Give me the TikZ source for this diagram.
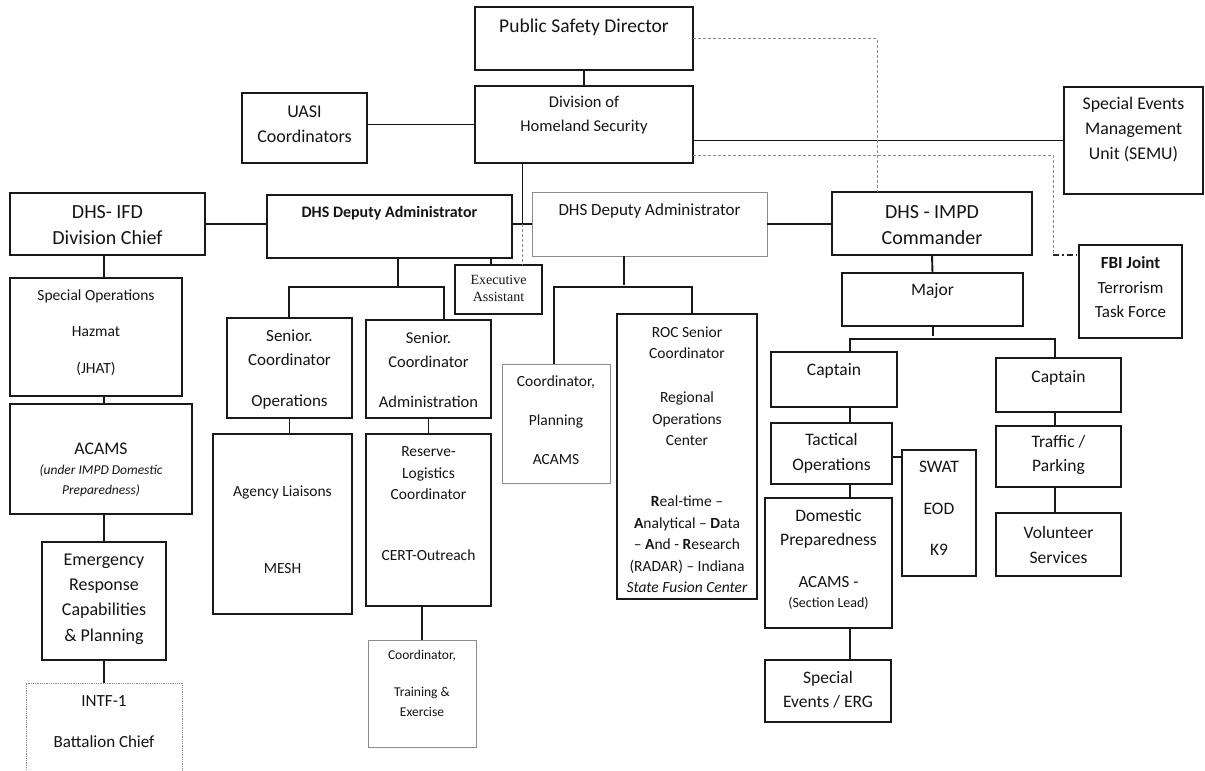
\documentclass[tikz,border=0pt]{standalone}
\usepackage{fontspec}
\setmainfont{Carlito}
\newfontfamily\serifx{Liberation Serif}
\usetikzlibrary{calc}
\newcommand\fsz[2]{\fontsize{#1}{#2}\selectfont}
\newcommand\bx[6][box]{\node[#1,minimum width={(#5)-(#3)},minimum height={(#6)-(#4)}] (#2) at ({((#3)+(#5))/2},{((#4)+(#6))/2}) {};}
\begin{document}
\begin{tikzpicture}[x=1pt,y=-1pt,
  box/.style={rectangle,draw=black!90,line width=1.9pt,inner sep=0pt,outer sep=0pt},
  gbox/.style={rectangle,draw=black!45,line width=1pt,inner sep=0pt,outer sep=0pt},
  dotbox/.style={rectangle,draw=black!45,line width=0.8pt,densely dotted,inner sep=0pt,outer sep=0pt},
  txt/.style={inner sep=0pt,outer sep=0pt,align=center,text=black!92},
  conn/.style={line width=1.9pt,draw=black!90},
  dlink/.style={line width=1pt,draw=black!45,dash pattern=on 3pt off 2pt},
  ddlink/.style={line width=1.8pt,draw=black!85,dash pattern=on 6pt off 3pt on 1.5pt off 3pt},
  thinlink/.style={line width=0.9pt,draw=black!40}]
\useasboundingbox (0,0) rectangle (1205,771);

% boxes
\bx{psd}{475}{7}{693}{70}
\bx{dhs}{475}{86}{693}{163}
\bx{uasi}{242}{93}{367}{163}
\bx{semu}{1064}{87}{1203}{194}
\bx{ifd}{10}{193}{205}{255}
\bx{depa}{267}{195}{512}{258}
\bx[gbox]{depb}{532}{192}{767}{256}
\bx{exa}{455}{265}{542}{314}
\bx{impd}{832}{192}{1032}{255}
\bx{fbi}{1079}{245}{1182}{338}
\bx{major}{842}{273}{1023}{326}
\bx{sops}{10}{278}{182}{396}
\bx{acams}{10}{404}{192}{514}
\bx{erc}{42}{542}{166}{660}
\bx[dotbox]{intf}{26}{683}{182}{800}
\bx{sco}{227}{318}{352}{418}
\bx{scad}{366}{320}{491}{418}
\bx{agl}{213}{434}{352}{614}
\bx{res}{366}{434}{491}{606}
\bx[gbox]{ctr}{368}{640}{476}{747}
\bx[gbox]{cpl}{502}{364}{610}{483}
\bx{roc}{617}{314}{757}{599}
\bx{capa}{771}{352}{897}{407}
\bx{tac}{771}{423}{892}{484}
\bx{swat}{902}{450}{976}{576}
\bx{dom}{765}{498}{892}{628}
\bx{sev}{765}{660}{891}{722}
\bx{capb}{996}{358}{1121}{412}
\bx{trf}{996}{426}{1121}{487}
\bx{vol}{996}{513}{1121}{576}

% texts
\node[txt,font=\fsz{19.5}{24}] (psd-t) at (psd.center |- 0,27) {Public Safety Director};
\node[txt,font=\fsz{16.5}{24}] (dhs-t) at (dhs.center |- 0,115) {Division of\\Homeland Security};
\node[txt,font=\fsz{18}{25}] (uasi-t) at (uasi.center |- 0,124.5) {UASI\\Coordinators};
\node[txt,font=\fsz{17.8}{25}] (semu-t) at (semu.center |- 0,130) {Special Events\\Management\\Unit (SEMU)};
\node[txt,font=\fsz{20}{26}] (ifd-t) at (ifd.center |- 0,225) {DHS- IFD\\Division Chief};
\node[txt,font=\fsz{16}{24}\bfseries] (depa-t) at (depa.center |- 0,213) {DHS Deputy Administrator};
\node[txt,font=\fsz{17}{24}] (depb-t) at (depb.center |- 0,211) {DHS Deputy Administrator};
\node[txt,font=\serifx\fsz{14}{17}] (exa-t) at (exa.center |- 0,288.5) {Executive\\Assistant};
\node[txt,font=\fsz{20}{26}] (impd-t) at (impd.center |- 0,225) {DHS - IMPD\\Commander};
\node[txt,font=\fsz{17}{24.5}] (fbi-t) at (fbi.center |- 0,287.5) {\textbf{FBI Joint}\\Terrorism\\Task Force};
\node[txt,font=\fsz{17.5}{24}] (major-t) at (major.center |- 0,291) {Major};
\node[txt,font=\fsz{15.5}{36.5}] (sops-t) at (sops.center |- 0,332.5) {Special Operations\\Hazmat\\(JHAT)};
\node[txt,font=\fsz{17.7}{22}] (acams-t) at (acams.center |- 0,449) {ACAMS};
\node[txt,font=\fsz{13.5}{20}\itshape] (acams-s) at (acams.center |- 0,481) {(under IMPD Domestic\\Preparedness)};
\node[txt,font=\fsz{18}{25.3}] (erc-t) at (erc.center |- 0,599) {Emergency\\Response\\Capabilities\\\& Planning};
\node[txt,font=\fsz{17}{41}] (intf-t) at (intf.center |- 0,721.5) {INTF-1\\Battalion Chief};
\node[txt,font=\fsz{17}{24}] (sco-t) at (sco.center |- 0,369.5) {Senior.\\Coordinator\\[17pt]Operations};
\node[txt,font=\fsz{16.5}{24}] (scad-t) at (scad.center |- 0,370) {Senior.\\Coordinator\\[16pt]Administration};
\node[txt,font=\fsz{15.5}{77}] (agl-t) at (agl.center |- 0,529.5) {Agency Liaisons\\MESH};
\node[txt,font=\fsz{15.5}{21.5}] (res-t) at (res.center |- 0,504) {Reserve-\\Logistics\\Coordinator\\[39.5pt]CERT-Outreach};
\node[txt,font=\fsz{13.5}{20}] (ctr-t) at (ctr.center |- 0,683.5) {Coordinator,\\[17pt]Training \&\\Exercise};
\node[txt,font=\fsz{15.5}{39}] (cpl-t) at (cpl.center |- 0,420) {Coordinator,\\Planning\\ACAMS};
\node[txt,font=\fsz{15.5}{21.5}] (roc-t) at (roc.center |- 0,459.5) {ROC Senior\\Coordinator\\[22.5pt]Regional\\Operations\\Center\\[39.5pt]\textbf{R}eal-time --\\\textbf{A}nalytical -- \textbf{D}ata\\-- \textbf{A}nd - \textbf{R}esearch\\(RADAR) -- Indiana\\\textit{State Fusion Center}};
\node[txt,font=\fsz{17.5}{24}] (capa-t) at (capa.center |- 0,371) {Captain};
\node[txt,font=\fsz{17.5}{25}] (tac-t) at (tac.center |- 0,453.5) {Tactical\\Operations};
\node[txt,font=\fsz{17.5}{41.5}] (swat-t) at (swat.center |- 0,508.5) {SWAT\\EOD\\K9};
\node[txt,font=\fsz{17.5}{24}] (dom-t) at (dom.center |- 0,529) {Domestic\\Preparedness};
\node[txt,font=\fsz{17}{24}] (dom-a) at (dom.center |- 0,582) {ACAMS -};
\node[txt,font=\fsz{14}{20}] (dom-s) at (dom.center |- 0,603) {(Section Lead)};
\node[txt,font=\fsz{17.5}{24}] (sev-t) at (sev.center |- 0,690) {Special\\Events / ERG};
\node[txt,font=\fsz{17.5}{24}] (capb-t) at (capb.center |- 0,378) {Captain};
\node[txt,font=\fsz{17.5}{24}] (trf-t) at (trf.center |- 0,455) {Traffic /\\Parking};
\node[txt,font=\fsz{17.5}{25}] (vol-t) at (vol.center |- 0,544.5) {Volunteer\\Services};

% junction coordinates
\coordinate (j1) at (522.5,224);
\coordinate (j2) at (398,287);
\coordinate (j2r) at (444,287);
\coordinate (j3) at (624,287);
\coordinate (j3l) at (554,287);
\coordinate (j3r) at (692,287);
\coordinate (j4) at (933,339);
\coordinate (j4l) at (850,339);
\coordinate (j4r) at (1055,339);
\coordinate (jk) at (1053,255);

% connectors
\draw[conn] (psd.south) -- (dhs.north);
\draw[conn] (dhs.west) -- (dhs.west -| uasi.east);
\draw[conn] (semu.west) -- (semu.west -| dhs.east);
\draw[dlink] (psd.east) -| ([xshift=-55pt]impd.north);
\draw[dlink] ([yshift=8pt]dhs.south east) -| (jk);
\draw[ddlink] (jk) -- (jk -| fbi.west);
\draw[conn] (dhs.south -| j1) -- (j1);
\draw[conn] (depa.east |- j1) -- (depb.west |- j1);
\draw[dlink] (j1) -- (j1 |- exa.north);
\draw[conn] ([xshift=-7.5pt]exa.north) -- ([xshift=-7.5pt]exa.north |- depa.south);
\draw[conn] (ifd.east) -- (ifd.east -| depa.west);
\draw[conn] (depb.east) -- (depb.east -| impd.west);
\draw[conn] (ifd.south -| erc.north) -- (sops.north -| erc.north);
\draw[conn] (sops.south -| erc.north) -- (acams.north -| erc.north);
\draw[conn] (acams.south -| erc.north) -- (erc.north);
\draw[conn] (erc.south) -- (erc.south |- intf.north);
\draw[conn] (depa.south -| j2) -- (j2);
\draw[conn] ([xshift=-0.5pt]sco.north) |- (j2r) -- (j2r |- scad.north);
\draw[conn] (sco.south) -- (sco.south |- agl.north);
\draw[conn] (scad.south) -- (res.north);
\draw[conn] (ctr.north |- res.south) -- (ctr.north);
\draw[conn] (depb.south -| j3) -- ([yshift=2pt]j3);
\draw[conn] (j3l |- cpl.north) -- (j3l) -- (j3r) -- (j3r |- roc.north);
\draw[conn] (impd.south) -- (major.north);
\draw[thinlink] ($(impd.south)!0.5!(major.north)$) -- ($(impd.south)!0.5!(major.north)$ -| fbi.west);
\draw[conn] (major.south -| j4) -- ([yshift=3pt]j4);
\draw[conn] (j4l |- capa.north) -- (j4l) -- (j4r) -- (j4r |- capb.north);
\draw[conn] (j4l |- capa.south) -- (j4l |- tac.north);
\draw[conn] (j4l |- tac.south) -- (j4l |- dom.north);
\draw[conn] (j4l |- dom.south) -- (j4l |- sev.north);
\draw[conn] ([yshift=-3.5pt]tac.east) -- ([yshift=-3.5pt]tac.east -| swat.west);
\draw[conn] (j4r |- capb.south) -- (j4r |- trf.north);
\draw[conn] (j4r |- trf.south) -- (j4r |- vol.north);
\end{tikzpicture}
\end{document}
